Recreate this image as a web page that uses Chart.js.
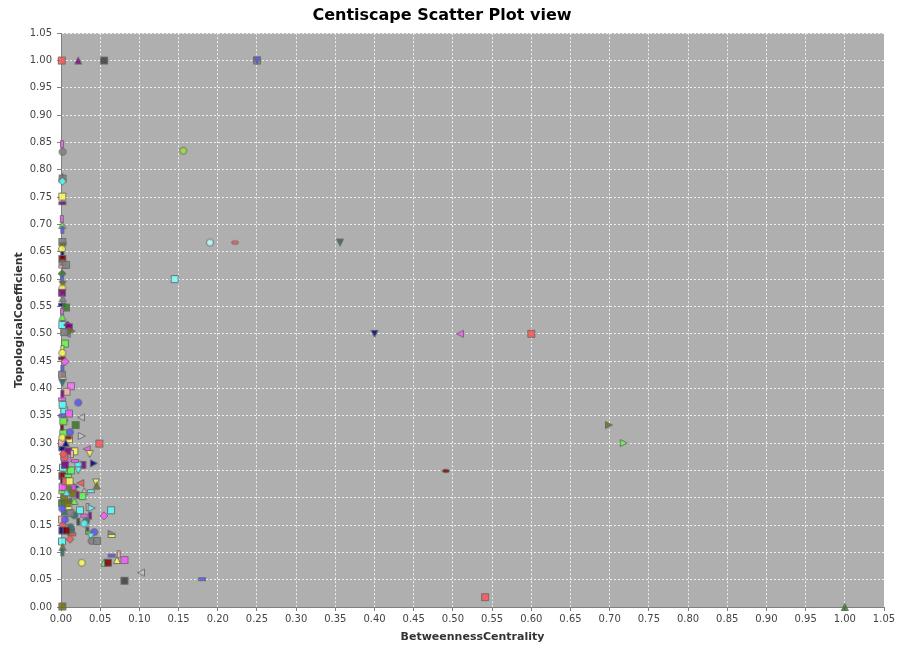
<!DOCTYPE html>
<html>
<head>
<meta charset="utf-8">
<title>Centiscape Scatter Plot view</title>
<script src="https://cdn.jsdelivr.net/npm/chart.js@4.4.0/dist/chart.umd.min.js"></script>
<style>
    html, body { margin: 0; padding: 0; background: #ffffff; }
    #chartBox { width: 902px; height: 647px; }
</style>
</head>
<body>
<div id="chartBox"><canvas id="scatterChart" width="902" height="647"></canvas></div>
<script>
// Node values: BetweennessCentrality (x) and TopologicalCoefficient (y)
const betweenness = [
    // isolated nodes
    0.001, 0.022, 0.055, 0.250, 0.250, 0.156, 0.190, 0.222, 0.356, 0.145,
    0.400, 0.509, 0.600, 0.699, 0.718, 0.491, 0.541, 1.000, 0.180, 0.102,
    0.081, 0.0017,
    // column along the y axis
    0.0013, 0.002, 0.0017, 0.002, 0.0017, 0.0017, 0.0017, 0.001, 0.0017, 0.0017,
    0.0017, 0.0025, 0.0013, 0.0017, 0.0017, 0.002, 0.0017, 0.0064, 0.0013, 0.0013,
    0.002, 0.0017, 0.0013, 0.002, 0.0013, 0.0064, 0.0013, 0.0017, 0.0017, 0.0085,
    0.0102, 0.0072, 0.004, 0.0136, 0.0051, 0.0017, 0.0017, 0.0013, 0.0051, 0.0017,
    0.0013, 0.0025, 0.0017, 0.0128, 0.007, 0.0017,
    // dense cluster
    0.022, 0.0255, 0.004, 0.0102, 0.0042, 0.0017, 0.0187, 0.0264, 0.0102, 0.003,
    0.0115, 0.0489, 0.0328, 0.0366, 0.0017, 0.0272, 0.042, 0.022, 0.0179, 0.017,
    0.0093, 0.0085, 0.004, 0.0072, 0.0128, 0.022, 0.0025, 0.0246, 0.0446, 0.0455,
    0.0187, 0.0145, 0.0093, 0.0297, 0.038, 0.0272, 0.0157, 0.021, 0.0093, 0.017,
    0.004, 0.0242, 0.034, 0.039, 0.0638, 0.0548, 0.0297, 0.037, 0.022, 0.017,
    0.0319, 0.0093, 0.005, 0.012, 0.0297, 0.005, 0.0123, 0.0128, 0.0145, 0.0115,
    0.0336, 0.036, 0.0425, 0.038, 0.039, 0.046, 0.0646, 0.0646, 0.0264, 0.055,
    0.060, 0.0714, 0.081, 0.0736, 0.0646,
    // extra nodes hugging the axis
    0.0013, 0.0017, 0.0013, 0.002, 0.0013, 0.0017, 0.0013, 0.002, 0.0017, 0.0013,
    0.0017, 0.0013, 0.002, 0.0017, 0.0013, 0.002, 0.0017, 0.005, 0.006, 0.007,
    0.008, 0.005, 0.007, 0.003, 0.009, 0.011, 0.006, 0.014, 0.003, 0.0095
];

const topological = [
    1.000, 1.000, 1.000, 1.000, 1.000, 0.835, 0.667, 0.667, 0.667, 0.600,
    0.500, 0.500, 0.500, 0.333, 0.300, 0.249, 0.018, 0.000, 0.051, 0.063,
    0.048, 0.001,
    0.847, 0.833, 0.787, 0.784, 0.779, 0.751, 0.739, 0.710, 0.699, 0.690,
    0.668, 0.660, 0.655, 0.644, 0.637, 0.629, 0.623, 0.626, 0.610, 0.601,
    0.590, 0.583, 0.575, 0.565, 0.553, 0.548, 0.540, 0.531, 0.516, 0.516,
    0.512, 0.500, 0.503, 0.505, 0.482, 0.472, 0.465, 0.455, 0.449, 0.436,
    0.425, 0.418, 0.410, 0.404, 0.394, 0.390,
    0.374, 0.347, 0.360, 0.354, 0.342, 0.350, 0.333, 0.313, 0.307, 0.318,
    0.320, 0.299, 0.289, 0.280, 0.292, 0.260, 0.263, 0.261, 0.267, 0.285,
    0.285, 0.269, 0.275, 0.250, 0.250, 0.250, 0.255, 0.227, 0.228, 0.222,
    0.220, 0.218, 0.215, 0.212, 0.212, 0.203, 0.208, 0.205, 0.194, 0.194,
    0.200, 0.177, 0.183, 0.181, 0.177, 0.167, 0.167, 0.167, 0.156, 0.168,
    0.157, 0.183, 0.175, 0.172, 0.153, 0.148, 0.146, 0.137, 0.133, 0.124,
    0.140, 0.136, 0.137, 0.129, 0.121, 0.121, 0.134, 0.130, 0.081, 0.081,
    0.081, 0.086, 0.086, 0.0965, 0.094,
    0.300, 0.310, 0.330, 0.370, 0.380, 0.240, 0.230, 0.220, 0.210, 0.190,
    0.180, 0.160, 0.150, 0.140, 0.120, 0.110, 0.100, 0.260, 0.230, 0.210,
    0.190, 0.160, 0.140, 0.280, 0.240, 0.230, 0.300, 0.280, 0.340, 0.310
];

// Marker shape per node (JFreeChart shapes): s square, c circle, u/v/l/r triangles,
// d diamond, h wide rect, t tall rect, e wide ellipse
const nodeShapes = [
    's','u','s','s','v','c','c','e','v','s',
    'v','l','s','r','r','e','s','u','h','l',
    's','s',
    't','c','u','s','d','s','h','t','u','t',
    's','v','c','t','s','c','h','s','d','t',
    'v','c','s','u','h','s','t','u','s','d',
    's','l','s','r','s','t','c','h','d','t',
    's','e','v','s','s','t',
    'c','l','s','s','d','h','s','r','s','s',
    'c','s','l','v','s','s','r','c','h','s',
    's','d','s','s','s','v','s','l','v','u',
    'r','s','s','u','h','s','s','t','l','u',
    's','s','t','r','s','d','h','t','t','c',
    'c','s','u','s','c','h','c','s','h','d',
    't','h','c','v','c','s','r','h','c','u',
    's','u','s','t','h',
    's','c','t','s','h','s','t','s','h','s',
    'c','s','d','s','s','u','t','s','s','u',
    's','c','s','d','h','s','u','t','s','e'
];

// Fill colour per node
const nodeColors = [
    'red','dmagenta','dgray','gray','blue','lime','vlcyan','red','slate','lcyan',
    'dblue','magenta','red','olive','lgreen','dred','red','dgreen','blue','lgray',
    'dgray','olive',
    'magenta','gray','dmagenta','gray','cyan','yellow','dmagenta','magenta','lgreen','blue',
    'gray','olive','yellow','dblue','dred','gray','pink','gray','dgreen','blue',
    'olive','yellow','dmagenta','gray','dblue','dgreen','magenta','lgreen','cyan','dmagenta',
    'dmagenta','gray','gray','olive','lgreen','yellow','yellow','dred','magenta','blue',
    'gray','pink','dcyan','lmagenta','pink','dmagenta',
    'blue','lgray','cyan','magenta','red','blue','dgreen','lgray','yellow','lgreen',
    'blue','red','magenta','yellow','dblue','dmagenta','dblue','cyan','magenta','yellow',
    'dmagenta','magenta','red','lgreen','green','cyan','cyan','red','yellow','olive',
    'dblue','magenta','olive','pink','cyan','green','olive','dmagenta','dcyan','lgreen',
    'olive','cyan','pink','cyan','cyan','magenta','magenta','dmagenta','dgray','dcyan',
    'dcyan','yellow','dcyan','gray','cyan','pink','dcyan','dcyan','red','red',
    'dgray','lgreen','blue','cyan','gray','gray','gray','yellow','yellow','green',
    'dred','yellow','magenta','pink','blue',
    'pink','yellow','dred','cyan','magenta','dred','dblue','magenta','lgreen','dgreen',
    'blue','pink','red','dblue','cyan','olive','dcyan','dmagenta','red','cyan',
    'olive','blue','dred','red','green','yellow','dblue','pink','lgreen','dred'
];

const colorTable = {
    red: '#ff5555', blue: '#5555ff', green: '#55ff55', yellow: '#ffff55',
    magenta: '#ff55ff', cyan: '#55ffff', pink: '#ffafaf', gray: '#808080',
    dred: '#800000', dblue: '#000080', dgreen: '#2e7d1e', olive: '#707010',
    dmagenta: '#800080', dcyan: '#207070', dgray: '#404040', lgreen: '#60ff40',
    lgray: '#c8c8c8', lmagenta: '#ff70ff', lcyan: '#80ffff', vlcyan: '#c0ffff',
    lime: '#a0e030', slate: '#3f6060'
};

// Build a small marker image for a shape / colour
const markerCache = {};
function makeMarker(shape, colorName) {
    const key = shape + '_' + colorName;
    if (markerCache[key]) return markerCache[key];

    const c = document.createElement('canvas');
    c.width = 10;
    c.height = 10;
    const ctx = c.getContext('2d');
    ctx.beginPath();
    switch (shape) {
        case 's': ctx.rect(1.5, 1.5, 7, 7); break;
        case 'c': ctx.arc(5, 5, 3.5, 0, Math.PI * 2); break;
        case 'u': ctx.moveTo(5, 1.5); ctx.lineTo(8.5, 8.5); ctx.lineTo(1.5, 8.5); ctx.closePath(); break;
        case 'v': ctx.moveTo(1.5, 1.5); ctx.lineTo(8.5, 1.5); ctx.lineTo(5, 8.5); ctx.closePath(); break;
        case 'r': ctx.moveTo(1.5, 1.5); ctx.lineTo(8.5, 5); ctx.lineTo(1.5, 8.5); ctx.closePath(); break;
        case 'l': ctx.moveTo(8.5, 1.5); ctx.lineTo(1.5, 5); ctx.lineTo(8.5, 8.5); ctx.closePath(); break;
        case 'd': ctx.moveTo(5, 1); ctx.lineTo(9, 5); ctx.lineTo(5, 9); ctx.lineTo(1, 5); ctx.closePath(); break;
        case 'h': ctx.rect(1.5, 3.5, 7, 3); break;
        case 't': ctx.rect(3.5, 1.5, 3, 7); break;
        case 'e': ctx.ellipse(5, 5, 3.5, 1.8, 0, 0, Math.PI * 2); break;
    }
    ctx.globalAlpha = 0.85;
    ctx.fillStyle = colorTable[colorName] || '#808080';
    ctx.fill();
    ctx.globalAlpha = 1;
    ctx.lineWidth = 1;
    ctx.strokeStyle = 'rgba(105,105,105,0.9)';
    ctx.stroke();

    markerCache[key] = c;
    return c;
}

// Grey plot background like JFreeChart
const plotBackground = {
    id: 'plotBackground',
    beforeDraw(chart) {
        const { ctx, chartArea } = chart;
        ctx.save();
        ctx.fillStyle = '#afafaf';
        ctx.fillRect(chartArea.left, chartArea.top, chartArea.right - chartArea.left, chartArea.bottom - chartArea.top);
        ctx.restore();
    }
};

function createScatterChart() {
    const points = betweenness.map((x, i) => ({ x: x, y: topological[i] }));
    const markers = nodeShapes.map((s, i) => makeMarker(s, nodeColors[i]));

    const axisFont = { family: 'DejaVu Sans', size: 10 };
    const titleFont = { family: 'DejaVu Sans', size: 11, weight: 'bold' };

    const gridOptions = {
        color: 'rgba(255,255,255,0.8)',
        lineWidth: 1,
        drawTicks: true,
        tickLength: 4,
        tickColor: '#808080',
        tickBorderDash: []
    };
    // in v4 the dash of grid lines lives under border.dash
    const borderOptions = { display: true, color: '#808080', dash: [2, 2] };

    const ctx = document.getElementById('scatterChart').getContext('2d');
    new Chart(ctx, {
        type: 'scatter',
        data: {
            datasets: [{
                label: 'Nodes',
                data: points,
                pointStyle: markers,
                pointRadius: 3,
                pointHoverRadius: 3,
                clip: false
            }]
        },
        options: {
            responsive: false,
            animation: false,
            layout: { padding: { left: 0, right: 18, top: 0, bottom: 0 } },
            scales: {
                x: {
                    type: 'linear',
                    min: 0,
                    max: 1.05,
                    grid: gridOptions,
                    border: borderOptions,
                    ticks: {
                        stepSize: 0.05,
                        autoSkip: false,
                        maxRotation: 0,
                        padding: 2,
                        color: '#444444',
                        font: axisFont,
                        callback: v => v.toFixed(2)
                    },
                    title: {
                        display: true,
                        text: 'BetweennessCentrality',
                        color: '#333333',
                        font: titleFont,
                        padding: { top: 0, bottom: 3 }
                    },
                    afterFit: scale => { scale.height = 40; }
                },
                y: {
                    type: 'linear',
                    min: 0,
                    max: 1.05,
                    grid: gridOptions,
                    border: borderOptions,
                    ticks: {
                        stepSize: 0.05,
                        autoSkip: false,
                        padding: 5,
                        color: '#444444',
                        font: axisFont,
                        callback: v => v.toFixed(2)
                    },
                    title: {
                        display: true,
                        text: 'TopologicalCoefficient',
                        color: '#333333',
                        font: titleFont,
                        padding: { top: 13, bottom: 0 }
                    },
                    afterFit: scale => { scale.width = 61; }
                }
            },
            plugins: {
                legend: { display: false },
                tooltip: { enabled: false },
                title: {
                    display: true,
                    text: 'Centiscape Scatter Plot view',
                    color: '#000000',
                    font: { family: 'DejaVu Sans', size: 16, weight: 'bold' },
                    padding: { top: 6, bottom: 8 }
                }
            }
        },
        plugins: [plotBackground]
    });
}

document.addEventListener('DOMContentLoaded', createScatterChart);
</script>
</body>
</html>
